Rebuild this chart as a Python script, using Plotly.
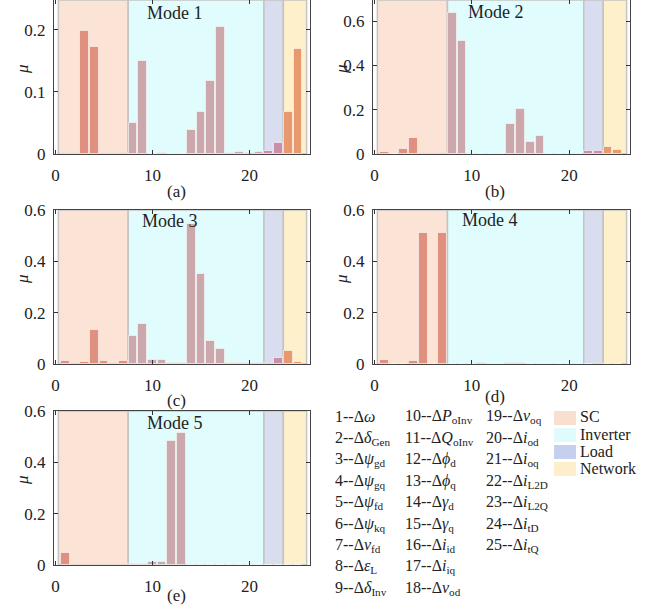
import plotly.graph_objects as go

W, H = 663, 605

# ---------------- data ----------------
state_index = list(range(1, 26))
mode1 = [0.001, 0.001, 0.198, 0.173, 0.001, 0.001, 0.001, 0.050, 0.150, 0.0005,
         0.001, 0.0005, 0.0005, 0.039, 0.068, 0.117, 0.204, 0.002, 0.004, 0.002,
         0.003, 0.005, 0.017, 0.068, 0.169]
mode2 = [0.008, 0.002, 0.023, 0.074, 0.003, 0.003, 0.003, 0.635, 0.511, 0.001,
         0.002, 0.001, 0.001, 0.135, 0.203, 0.056, 0.081, 0.001, 0.002, 0.001,
         0.001, 0.012, 0.014, 0.030, 0.018]
mode3 = [0.010, 0.003, 0.009, 0.132, 0.010, 0.005, 0.010, 0.110, 0.156, 0.017,
         0.014, 0.004, 0.004, 0.544, 0.351, 0.091, 0.060, 0.004, 0.003, 0.002,
         0.002, 0.004, 0.025, 0.052, 0.008]
mode4 = [0.016, 0.001, 0.001, 0.010, 0.509, 0.001, 0.509, 0.001, 0.001, 0.001,
         0.002, 0.001, 0.001, 0.002, 0.002, 0.001, 0.001, 0.001, 0.001, 0.001,
         0.001, 0.001, 0.002, 0.001, 0.001]
mode5 = [0.048, 0.004, 0.003, 0.003, 0.004, 0.004, 0.004, 0.005, 0.002, 0.013,
         0.013, 0.485, 0.514, 0.001, 0.001, 0.001, 0.001, 0.001, 0.001, 0.001,
         0.001, 0.001, 0.001, 0.001, 0.001]
modes = [mode1, mode2, mode3, mode4, mode5]
mode_names = ["Mode 1", "Mode 2", "Mode 3", "Mode 4", "Mode 5"]
panel_labels = ["(a)", "(b)", "(c)", "(d)", "(e)"]

groups = ["SC", "Inverter", "Load", "Network"]
group_spans = [(0.3, 7.5), (7.5, 21.5), (21.5, 23.5), (23.5, 25.9)]
group_members = [range(1, 8), range(8, 22), range(22, 24), range(24, 26)]

state_labels = [
    "1--Δ<i>ω</i>", "2--Δ<i>δ</i><sub>Gen</sub>", "3--Δ<i>ψ</i><sub>gd</sub>",
    "4--Δ<i>ψ</i><sub>gq</sub>", "5--Δ<i>ψ</i><sub>fd</sub>", "6--Δ<i>ψ</i><sub>kq</sub>",
    "7--Δ<i>v</i><sub>fd</sub>", "8--Δ<i>ε</i><sub>L</sub>", "9--Δ<i>δ</i><sub>Inv</sub>",
    "10--Δ<i>P</i><sub>oInv</sub>", "11--Δ<i>Q</i><sub>oInv</sub>", "12--Δ<i>ϕ</i><sub>d</sub>",
    "13--Δ<i>ϕ</i><sub>q</sub>", "14--Δ<i>γ</i><sub>d</sub>", "15--Δ<i>γ</i><sub>q</sub>",
    "16--Δ<i>i</i><sub>id</sub>", "17--Δ<i>i</i><sub>iq</sub>", "18--Δ<i>v</i><sub>od</sub>",
    "19--Δ<i>v</i><sub>oq</sub>", "20--Δ<i>i</i><sub>od</sub>", "21--Δ<i>i</i><sub>oq</sub>",
    "22--Δ<i>i</i><sub>L2D</sub>", "23--Δ<i>i</i><sub>L2Q</sub>", "24--Δ<i>i</i><sub>tD</sub>",
    "25--Δ<i>i</i><sub>tQ</sub>",
]

y_ranges = [(0, 0.248), (0, 0.695), (0, 0.6), (0, 0.6), (0, 0.6)]
y_ticks = [[0, 0.1, 0.2], [0, 0.2, 0.4, 0.6], [0, 0.2, 0.4, 0.6], [0, 0.2, 0.4, 0.6], [0, 0.2, 0.4, 0.6]]
x_ticks = [0, 10, 20]

# ---------------- styles ----------------
bg_colors = ["#FBE4D6", "#E0FCFC", "#D9DDF0", "#FFF0CC"]
bar_colors = ["#E0907F", "#CCA8AC", "#C98EA8", "#E89A6E"]
legend_colors = ["#F9DFD0", "#E0FBFB", "#C4D0EE", "#FDEFCC"]
FONT = "Liberation Serif, Times New Roman, serif"

# panel pixel boxes: (left, right, top, bottom)
boxes = [(54, 310, 0, 154), (373, 630, 0, 154), (54, 310, 210, 364),
         (373, 630, 210, 364), (54, 310, 411, 565)]

def px(x):
    return x / W

def py(y):
    return 1 - y / H

def note(x, y, text, size=17, xanchor="center", angle=0):
    return dict(x=px(x), y=py(y), xref="paper", yref="paper", text=text,
                showarrow=False, xanchor=xanchor, yanchor="middle", textangle=angle,
                font=dict(family=FONT, size=size, color="#222"))

bar_color_for = {}
for g, members in enumerate(group_members):
    for k in members:
        bar_color_for[k] = bar_colors[g]

fig = go.Figure()
shapes = []
annotations = []

label_y = [192, 192, 400, 397, 595]
mode_y = [13, 12, 221, 220, 423]
mode_x = [175, 496, 170, 490, 175]

for i, (vals, box) in enumerate(zip(modes, boxes)):
    n = i + 1
    xa = "x" if n == 1 else f"x{n}"
    ya = "y" if n == 1 else f"y{n}"
    fig.add_trace(go.Bar(
        x=state_index, y=vals, width=0.9,
        marker=dict(color=[bar_color_for[k] for k in state_index],
                    line=dict(color="rgba(255,255,255,0.55)", width=1)),
        xaxis=xa, yaxis=ya, showlegend=False,
    ))
    l, r, t, b = box
    xkey = "xaxis" if n == 1 else f"xaxis{n}"
    ykey = "yaxis" if n == 1 else f"yaxis{n}"
    fig.update_layout(**{
        xkey: dict(domain=[px(l), px(r)], range=[-0.15, 26.25], anchor=ya,
                   tickvals=x_ticks, ticktext=[str(v) for v in x_ticks],
                   ticks="inside", ticklen=4, tickcolor="#333", mirror="ticks",
                   showline=True, linecolor="#444", linewidth=1, showgrid=False,
                   zeroline=False, ticklabelstandoff=6, automargin=False,
                   tickfont=dict(family=FONT, size=17, color="#222")),
        ykey: dict(domain=[py(b), py(t)], range=list(y_ranges[i]), anchor=xa,
                   tickvals=y_ticks[i], ticktext=[("0" if v == 0 else f"{v:g}") for v in y_ticks[i]],
                   ticks="inside", ticklen=4, tickcolor="#333", mirror="ticks",
                   showline=True, linecolor="#444", linewidth=1, showgrid=False,
                   zeroline=False, ticklabelstandoff=4, automargin=False,
                   tickfont=dict(family=FONT, size=17, color="#222")),
    })
    for g, (x0, x1) in enumerate(group_spans):
        shapes.append(dict(type="rect", xref=xa, yref=f"{ya} domain", x0=x0, x1=x1,
                           y0=0, y1=1, fillcolor=bg_colors[g],
                           line=dict(color="#C4C4C4", width=1.5), layer="below"))
    annotations.append(note(mode_x[i], mode_y[i], mode_names[i], size=18))
    annotations.append(note(l + 122, label_y[i], panel_labels[i]))
    annotations.append(note(l - 32, (t + b) / 2 - 8, "<i>μ</i>", angle=-90))

col_x = [333, 403, 484]
for idx, text in enumerate(state_labels):
    col = idx // 9
    row = idx % 9
    annotations.append(note(col_x[col], 417 + 21.4 * row, text, size=16, xanchor="left"))

for g, name in enumerate(groups):
    yc = 418 + 17 * g
    shapes.append(dict(type="rect", xref="paper", yref="paper", x0=px(554), x1=px(576),
                       y0=py(yc + 7), y1=py(yc - 7), fillcolor=legend_colors[g],
                       line=dict(width=0)))
    annotations.append(note(578, yc - 1, name, size=16, xanchor="left"))

fig.update_layout(width=W, height=H, margin=dict(l=0, r=0, t=0, b=0, autoexpand=False),
                  paper_bgcolor="white", plot_bgcolor="white", bargap=0,
                  shapes=shapes, annotations=annotations, showlegend=False)

fig.write_html("out.html", config={"displayModeBar": False},
               post_script="document.body.style.margin='0px';")
